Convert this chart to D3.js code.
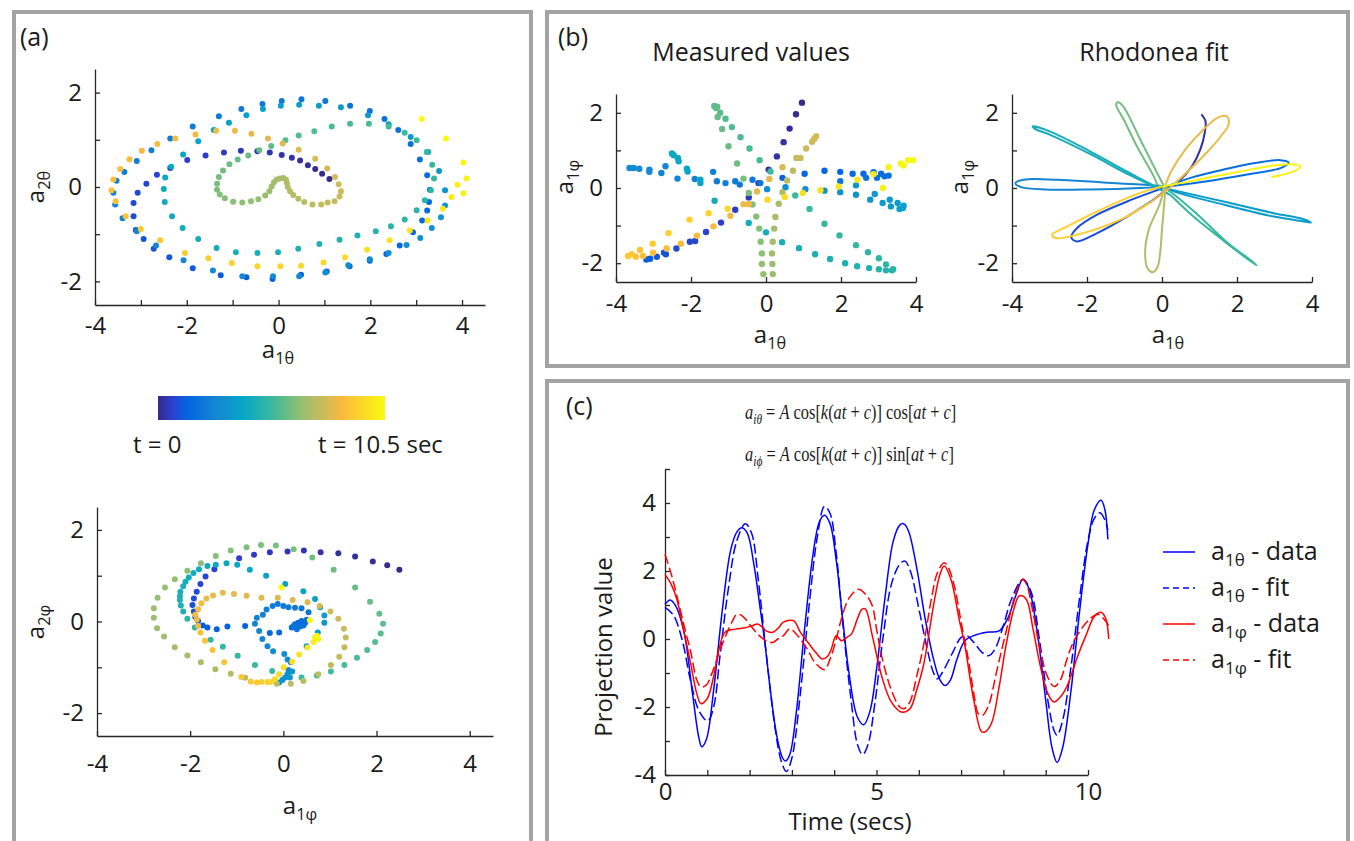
<!DOCTYPE html>
<html>
<head>
<meta charset="utf-8">
<script src="https://cdn.jsdelivr.net/npm/d3@7"></script>
<style>
  body { margin: 0; background: #fff; }
  text { font-family: "Open Sans", "Noto Sans", sans-serif; fill: #1a1a1a; }
</style>
</head>
<body>
<svg id="fig" width="1354" height="841"></svg>
<script>

// parula colour map, time in seconds
var tMax = 10.5;
var parulaStops = [0, 0.06, 0.125, 0.25, 0.375, 0.5, 0.625, 0.75, 0.81, 0.875, 1];
var parulaColors = ["#352a87", "#2e3ecf", "#0363e1", "#1485d4", "#06a7c6", "#38b99e",
                    "#92bf73", "#d9ba56", "#f9bb3d", "#fcce2e", "#f9fb0e"];

// (a) top: a1theta vs a2theta, [x, y, t]
var thetaPts = [
  [1.11,0.17,0.00],[0.95,0.28,0.05],[0.80,0.38,0.10],[0.64,0.46,0.15],[0.47,0.56,0.20],[0.29,0.62,0.25],[0.07,0.68,0.30],[-0.19,0.73,0.35],[-0.46,0.76,0.40],[-0.82,0.77,0.45],[-1.19,0.73,0.50],[-1.59,0.67,0.55],
  [-1.99,0.57,0.60],[-2.36,0.40,0.65],[-2.65,0.26,0.70],[-2.88,0.07,0.75],[-3.07,-0.12,0.80],[-3.16,-0.34,0.85],[-3.16,-0.62,0.90],
  [-3.11,-0.91,0.95],[-2.94,-1.10,0.99],[-2.72,-1.31,1.03],[-2.38,-1.49,1.07],[-1.87,-1.72,1.11],[-1.26,-1.87,1.15],[-0.70,-1.91,1.19],[-0.13,-1.95,1.23],[0.49,-1.86,1.27],[1.05,-1.79,1.31],[1.55,-1.68,1.35],[1.99,-1.56,1.39],[2.35,-1.42,1.43],[2.64,-1.24,1.47],[2.93,-0.96,1.51],[3.13,-0.71,1.55],[3.24,-0.50,1.59],[3.28,-0.32,1.63],
  [3.30,-0.06,1.68],[3.24,0.25,1.72],[3.08,0.58,1.76],[2.88,0.91,1.80],[2.61,1.21,1.84],[2.31,1.44,1.88],[1.99,1.61,1.92],[1.56,1.72,1.96],[1.02,1.82,2.00],[0.50,1.86,2.04],[0.07,1.82,2.08],[-0.35,1.76,2.12],[-0.81,1.65,2.16],[-1.30,1.50,2.20],[-1.87,1.28,2.24],[-2.36,1.03,2.28],[-2.77,0.78,2.32],[-3.09,0.55,2.36],[-3.36,0.32,2.40],[-3.53,0.13,2.44],[-3.60,-0.12,2.48],[-3.56,-0.37,2.52],[-3.40,-0.66,2.56],
  [-3.09,-0.94,2.60],[-2.67,-1.24,2.65],[-2.07,-1.55,2.69],[-1.43,-1.77,2.74],[-0.79,-1.89,2.78],[-0.12,-1.89,2.83],[0.45,-1.89,2.87],[1.02,-1.81,2.92],[1.52,-1.66,2.94],[1.99,-1.53,2.96],[2.40,-1.40,3.01],[2.79,-1.23,3.05],[3.09,-1.08,3.10],[3.34,-0.87,3.14],[3.54,-0.64,3.19],[3.63,-0.39,3.23],[3.63,-0.07,3.28],[3.50,0.34,3.32],[3.26,0.74,3.37],[2.88,1.06,3.41],[2.40,1.33,3.46],[1.95,1.52,3.50],[1.36,1.69,3.55],[0.88,1.72,3.59],[0.45,1.74,3.64],[0.05,1.72,3.68],[-0.34,1.65,3.73],[-0.70,1.52,3.77],[-1.08,1.36,3.82],
  [-1.41,1.21,3.87],[-1.75,0.97,3.92],[-2.08,0.69,3.97],[-2.34,0.43,4.02],[-2.47,0.20,4.07],[-2.50,-0.04,4.12],[-2.48,-0.32,4.17],[-2.32,-0.62,4.22],[-2.09,-0.87,4.27],[-1.75,-1.10,4.32],[-1.35,-1.29,4.37],[-0.93,-1.38,4.42],[-0.46,-1.40,4.47],[-0.01,-1.38,4.52],[0.43,-1.31,4.57],[0.89,-1.21,4.62],[1.33,-1.12,4.67],[1.72,-1.03,4.72],[2.12,-0.94,4.77],[2.45,-0.83,4.82],[2.75,-0.69,4.87],[3.01,-0.49,4.92],[3.19,-0.28,4.97],[3.32,-0.07,5.02],
  [3.39,0.18,5.07],[3.35,0.47,5.13],[3.23,0.74,5.19],[3.01,0.99,5.25],[2.75,1.15,5.31],[2.40,1.28,5.37],[1.97,1.34,5.43],[1.56,1.34,5.49],[1.16,1.28,5.55],[0.78,1.18,5.61],[0.44,1.09,5.67],[0.15,0.99,5.73],[-0.16,0.87,5.79],[-0.42,0.78,5.85],[-0.66,0.67,5.91],[-0.89,0.58,5.97],[-1.07,0.48,6.03],[-1.21,0.35,6.09],[-1.30,0.21,6.15],[-1.34,0.07,6.21],[-1.34,-0.06,6.27],[-1.28,-0.16,6.33],[-1.17,-0.24,6.39],[-0.99,-0.31,6.45],[-0.79,-0.33,6.51],[-0.60,-0.30,6.57],[-0.44,-0.26,6.63],
  [-0.29,-0.18,6.70],[-0.20,-0.09,6.75],[-0.15,0.01,6.80],[-0.10,0.10,6.85],[-0.04,0.16,6.90],[0.03,0.18,6.95],[0.10,0.19,7.00],[0.16,0.16,7.05],[0.18,0.09,7.10],[0.20,0.00,7.15],[0.25,-0.09,7.20],[0.32,-0.17,7.25],[0.43,-0.25,7.30],[0.56,-0.32,7.35],[0.74,-0.37,7.40],[0.93,-0.37,7.45],[1.07,-0.33,7.50],[1.22,-0.30,7.55],
  [1.33,-0.20,7.60],[1.36,-0.09,7.66],[1.31,0.06,7.72],[1.23,0.21,7.78],[1.06,0.39,7.84],[0.80,0.60,7.90],[0.44,0.79,7.96],[0.09,0.92,8.02],[-0.23,1.03,8.08],[-0.59,1.13,8.14],[-0.95,1.19,8.20],[-1.36,1.19,8.26],[-1.81,1.11,8.32],[-2.25,1.03,8.38],[-2.64,0.91,8.44],[-2.98,0.77,8.50],[-3.25,0.59,8.56],[-3.45,0.38,8.62],[-3.60,0.16,8.68],[-3.64,-0.07,8.74],[-3.55,-0.30,8.80],[-3.33,-0.62,8.86],[-3.00,-0.89,8.92],[-2.58,-1.13,8.98],
  [-2.04,-1.40,9.05],[-1.53,-1.51,9.13],[-1.02,-1.61,9.20],[-0.46,-1.68,9.28],[0.04,-1.68,9.35],[0.49,-1.67,9.43],[0.98,-1.60,9.51],[1.45,-1.49,9.58],[1.93,-1.33,9.66],[2.42,-1.13,9.73],[2.86,-0.92,9.81],[3.25,-0.71,9.89],[3.58,-0.46,9.96],[3.77,-0.21,10.04],[4.03,-0.13,10.11],[3.90,0.05,10.19],[4.10,0.18,10.27],[4.03,0.52,10.34],[3.65,1.03,10.42],[3.12,1.44,10.50]
];

// (a) bottom: a1phi vs a2phi, [x, y, t]
var phiPts = [
  [2.49,1.13,0.00],[2.23,1.23,0.06],[1.92,1.31,0.12],[1.54,1.42,0.18],[1.18,1.49,0.24],[0.80,1.51,0.30],[0.44,1.55,0.36],[0.09,1.53,0.42],[-0.29,1.51,0.48],[-0.63,1.46,0.54],[-0.95,1.38,0.60],
  [-1.48,1.14,0.66],[-1.67,0.98,0.72],[-1.78,0.82,0.77],[-1.86,0.65,0.83],[-1.92,0.50,0.88],[-1.95,0.36,0.94],[-1.92,0.22,1.00],[-1.89,0.10,1.05],[-1.83,0.01,1.11],[-1.73,-0.09,1.16],[-1.63,-0.13,1.22],[-1.43,-0.17,1.28],[-1.20,-0.11,1.33],[-0.82,-0.10,1.39],[-0.29,-0.25,1.44],[-0.09,-0.24,1.50],
  [0.18,-0.13,1.55],[0.25,-0.06,1.60],[0.32,-0.03,1.65],[0.39,0.01,1.70],[0.47,-0.03,1.75],[0.50,0.04,1.80],[0.43,-0.09,1.85],[0.29,-0.17,1.90],[0.36,-0.11,1.95],[0.22,-0.10,2.00],
  [0.54,0.20,2.05],[0.39,0.29,2.10],[0.25,0.30,2.15],[0.11,0.31,2.20],[0.00,0.34,2.25],[-0.12,0.38,2.30],[-0.23,0.34,2.35],[-0.36,0.26,2.40],[-0.44,0.15,2.45],[-0.57,0.08,2.50],[-0.61,-0.05,2.55],[-0.52,-0.21,2.60],[-0.45,-0.38,2.65],[-0.34,-0.54,2.70],[-0.22,-0.65,2.75],[0.02,-0.71,2.80],[0.09,-0.83,2.85],[0.16,-0.89,2.90],[0.11,-1.06,2.95],[0.09,-1.15,3.00],[0.04,-1.22,3.05],[-0.02,-1.28,3.10],[-0.09,-1.33,3.15],
  [0.14,-1.22,3.20],[0.19,-1.09,3.26],[0.50,-0.54,3.32],[0.74,-0.24,3.38],[0.88,-0.03,3.44],[0.88,0.13,3.50],[0.79,0.31,3.56],[0.68,0.49,3.62],[0.43,0.66,3.68],[0.04,0.82,3.74],[-0.37,1.00,3.80],[-0.72,1.13,3.86],[-0.99,1.24,3.92],[-1.22,1.27,3.98],[-1.45,1.24,4.04],[-1.63,1.21,4.10],[-1.81,1.14,4.16],[-1.93,1.06,4.22],[-2.03,0.96,4.28],[-2.10,0.87,4.34],[-2.15,0.77,4.40],[-2.21,0.65,4.46],[-2.22,0.55,4.52],[-2.22,0.47,4.58],[-2.20,0.35,4.64],[-2.15,0.22,4.70],
  [-2.06,0.06,4.90],[-1.90,-0.13,4.96],[-1.56,-0.40,5.02],[-1.30,-0.55,5.08],[-0.98,-0.75,5.14],[-0.61,-0.95,5.20],[-0.24,-1.08,5.26],[0.39,-1.22,5.32],[0.72,-1.18,5.38],[1.02,-1.09,5.44],[1.31,-0.95,5.50],[1.58,-0.79,5.56],[1.80,-0.62,5.62],[1.97,-0.45,5.68],[2.09,-0.26,5.74],[2.14,-0.05,5.80],[2.06,0.17,5.86],[1.86,0.43,5.92],[1.54,0.74,5.98],[1.08,1.13,6.04],
  [0.62,1.40,6.10],[0.22,1.58,6.15],[-0.16,1.66,6.20],[-0.48,1.67,6.25],[-0.79,1.62,6.30],[-1.13,1.55,6.35],[-1.45,1.43,6.40],[-1.77,1.27,6.45],[-2.06,1.11,6.50],[-2.33,0.92,6.55],[-2.54,0.74,6.60],[-2.70,0.52,6.65],[-2.78,0.29,6.70],[-2.78,0.08,6.75],[-2.71,-0.15,6.80],[-2.56,-0.33,6.85],[-2.33,-0.56,6.90],[-2.06,-0.74,6.95],[-1.77,-0.89,7.00],[-1.46,-1.04,7.05],[-1.13,-1.14,7.10],
  [-0.82,-1.23,7.16],[-0.14,-1.36,7.21],[0.16,-1.36,7.26],[0.43,-1.30,7.31],[0.75,-1.15,7.36],[1.02,-0.95,7.41],[1.20,-0.77,7.46],[1.31,-0.56,7.51],[1.34,-0.35,7.56],[1.30,-0.16,7.61],[1.18,0.06,7.66],[1.01,0.22,7.71],[0.78,0.34,7.76],[0.52,0.42,7.81],[0.20,0.47,7.86],
  [-0.12,0.52,7.92],[-0.47,0.52,7.98],[-0.79,0.56,8.04],[-1.06,0.60,8.10],[-1.30,0.63,8.16],[-1.51,0.57,8.22],[-1.65,0.50,8.28],[-1.76,0.40,8.34],[-1.83,0.27,8.40],[-1.89,0.15,8.46],[-1.86,0.04,8.52],[-1.83,-0.10,8.58],[-1.78,-0.24,8.64],[-1.68,-0.42,8.70],[-1.52,-0.62,8.76],[-1.27,-0.89,8.82],[-0.90,-1.21,8.88],
  [-0.70,-1.31,8.95],[-0.57,-1.33,9.05],[-0.47,-1.32,9.15],[-0.34,-1.32,9.25],[-0.26,-1.32,9.35],[-0.18,-1.26,9.45],[-0.09,-1.15,9.55],[0.01,-1.00,9.65],[0.19,-0.88,9.75],[0.34,-0.72,9.85],[0.52,-0.57,9.95],[0.65,-0.45,10.05],[0.68,-0.35,10.15],[0.72,-0.31,10.25],[0.75,-0.38,10.35],[0.57,0.03,10.45],[-0.04,0.74,10.50]
];

// (b) left: measured a1theta vs a1phi, [x, y, t]
var measuredPts = [
  [0.96,2.27,0.00],[0.80,1.96,0.07],[0.63,1.58,0.14],[0.47,1.22,0.21],[0.29,0.84,0.28],[0.07,0.49,0.35],[-0.20,0.13,0.42],
  [-0.46,-0.25,0.48],[-0.82,-0.58,0.55],[-1.20,-0.92,0.61],[-1.60,-1.17,0.68],[-1.89,-1.41,0.74],[-2.03,-1.43,0.81],[-2.39,-1.61,0.87],[-2.67,-1.76,0.94],[-2.72,-1.72,1.00],[-2.91,-1.83,1.07],[-3.09,-1.88,1.13],[-3.19,-1.90,1.20],
  [0.44,0.27,1.30],[1.03,0.38,1.36],[1.56,0.46,1.42],[1.98,0.43,1.48],[2.31,0.38,1.54],[2.60,0.38,1.60],[2.87,0.42,1.66],[3.07,0.38,1.72],[3.16,0.31,1.78],[3.27,0.33,1.84],[2.96,0.27,1.90],[2.67,0.27,1.96],[1.98,0.18,2.02],
  [-0.15,0.13,2.10],[-0.36,0.22,2.15],[-0.70,0.09,2.20],[-0.82,0.18,2.25],[-1.08,0.13,2.30],[-1.31,0.18,2.35],[-1.41,0.43,2.40],[-1.90,0.24,2.45],[-2.36,0.25,2.50],[-2.68,0.58,2.55],[-2.79,0.40,2.60],[-3.11,0.49,2.65],[-3.11,0.43,2.70],[-3.38,0.51,2.75],[-3.53,0.53,2.80],[-3.64,0.53,2.85],
  [0.03,-0.03,2.95],[0.52,0.02,3.00],[1.05,-0.03,3.05],[1.56,-0.07,3.10],[1.98,-0.11,3.15],[2.40,0.07,3.20],[2.40,-0.18,3.25],[2.78,-0.31,3.30],[2.90,-0.16,3.35],[3.11,-0.40,3.40],[3.30,-0.31,3.45],[3.33,-0.49,3.50],[3.51,-0.40,3.55],[3.56,-0.56,3.60],[3.65,-0.53,3.65],[3.67,-0.47,3.70],
  [-1.75,0.13,3.80],[-1.75,0.22,3.85],[-2.09,0.44,3.90],[-2.11,0.51,3.95],[-2.33,0.71,4.00],[-2.35,0.80,4.05],[-2.46,0.87,4.10],[-2.51,0.92,4.15],[-1.37,-0.34,4.25],
  [-0.46,-0.93,4.30],[0.00,-1.18,4.35],[0.43,-1.44,4.40],[0.88,-1.60,4.45],[1.31,-1.76,4.50],[1.71,-1.89,4.55],[2.11,-2.00,4.60],[2.43,-2.08,4.65],[2.75,-2.13,4.70],[3.01,-2.16,4.75],[3.20,-2.19,4.80],[3.36,-2.19,4.85],[3.39,-2.16,4.90],[3.20,-2.03,4.95],[3.01,-1.87,5.00],[2.72,-1.71,5.05],[2.40,-1.52,5.10],[1.96,-1.26,5.15],[1.56,-0.95,5.20],[1.16,-0.56,5.25],[0.78,-0.20,5.30],
  [0.12,0.44,5.40],[-0.17,0.74,5.45],[-0.44,1.05,5.50],[-0.68,1.35,5.55],[-0.91,1.62,5.60],[-1.08,1.84,5.65],[-1.22,2.00,5.70],[-1.33,2.13,5.75],[-1.38,2.18,5.80],[-1.30,2.16,5.85],[-1.29,1.89,5.90],[-1.17,1.57,5.95],[-1.00,1.11,6.00],[-0.77,0.65,6.05],
  [-0.60,0.25,6.20],[-0.46,-0.13,6.25],[-0.36,-0.44,6.30],[-0.26,-0.76,6.35],[-0.18,-1.08,6.40],[-0.14,-1.43,6.45],[-0.11,-1.74,6.50],[-0.11,-2.02,6.55],[-0.07,-2.29,6.60],[0.18,-2.29,6.70],[0.17,-2.02,6.75],[0.16,-1.74,6.80],[0.18,-1.43,6.85],[0.22,-1.08,6.90],[0.25,-0.77,6.95],[0.34,-0.42,7.00],[0.44,-0.11,7.05],
  [0.56,0.20,7.30],[0.72,0.46,7.38],[0.81,0.80,7.46],[0.92,0.80,7.54],[1.07,1.05,7.62],[1.23,1.23,7.70],[1.29,1.31,7.78],[1.34,1.38,7.86],[0.44,0.55,7.94],[0.09,0.24,8.02],
  [-0.24,-0.09,8.10],[-0.46,-0.43,8.17],[-0.60,-0.43,8.24],[-0.95,-0.74,8.31],[-1.40,-1.02,8.38],[-1.84,-1.27,8.45],[-2.27,-1.48,8.52],[-2.65,-1.61,8.59],[-3.01,-1.72,8.66],[-3.28,-1.81,8.73],[-3.36,-1.65,8.80],[-3.47,-1.83,8.87],[-3.58,-1.76,8.94],[-3.68,-1.81,9.01],[-3.02,-1.48,9.08],
  [-2.60,-1.20,9.20],[-2.04,-0.84,9.28],[-1.53,-0.67,9.36],[-1.02,-0.55,9.44],[0.04,-0.31,9.52],[0.50,-0.24,9.60],[0.98,-0.13,9.68],[1.45,-0.06,9.76],[1.94,0.04,9.84],[2.44,0.22,9.92],[2.87,0.37,10.00],[3.12,0.00,10.08],[3.27,0.55,10.16],[3.60,0.65,10.24],[3.67,0.60,10.32],[3.79,0.74,10.40],[3.92,0.74,10.50]
];

// (b) right: rhodonea fit, one petal per entry, with the petal's time
var petalTimes = [0.2, 0.9, 1.7, 2.6, 3.5, 4.4, 5.2, 6.1, 7.1, 8.2, 9.2, 10.2];
var petals = [
  [[1.05,1.96],[1.16,1.78],[1.14,1.47],[1.02,1.02],[0.80,0.58],[0.49,0.22],[0.18,0.0],[-0.22,-0.31]],
  [[-0.22,-0.31],[-0.93,-0.76],[-1.73,-1.20],[-2.27,-1.42],[-2.42,-1.31],[-2.27,-1.07],[-1.73,-0.71],[-0.93,-0.36],[-0.22,-0.09],[0.13,0.04]],
  [[0.13,0.04],[0.76,0.27],[1.64,0.49],[2.53,0.67],[3.16,0.74],[3.38,0.67],[3.16,0.53],[2.27,0.36],[1.2,0.18],[0.31,0.06],[-0.13,0.03]],
  [[-0.13,0.03],[-0.58,0.0],[-1.91,-0.04],[-3.07,-0.04],[-3.78,0.03],[-3.91,0.13],[-3.69,0.22],[-2.8,0.22],[-1.64,0.15],[-0.58,0.09],[0.04,0.04]],
  [[0.04,0.04],[0.31,-0.09],[1.64,-0.44],[2.98,-0.76],[3.78,-0.89],[3.97,-0.92],[3.78,-0.83],[2.98,-0.67],[1.64,-0.36],[0.31,-0.06],[-0.22,0.06]],
  [[-0.22,0.06],[-0.9,0.42],[-1.91,0.97],[-2.98,1.50],[-3.45,1.64],[-3.40,1.58],[-2.95,1.40],[-1.91,0.90],[-0.9,0.36],[-0.13,0.0],[0.22,-0.18]],
  [[0.22,-0.18],[0.84,-0.76],[1.64,-1.40],[2.27,-1.88],[2.52,-2.06],[2.40,-1.95],[1.73,-1.44],[0.93,-0.69],[0.22,-0.10],[-0.13,0.09]],
  [[-0.13,0.09],[-0.22,0.31],[-0.67,1.11],[-1.02,1.82],[-1.22,2.2],[-1.18,2.28],[-1.04,2.18],[-0.58,1.29],[-0.13,0.4],[0.06,0.04]],
  [[0.06,0.04],[-0.05,-0.4],[-0.35,-1.1],[-0.45,-1.73],[-0.38,-2.15],[-0.25,-2.24],[-0.12,-2.1],[-0.05,-1.73],[0.0,-1.1],[0.06,-0.4],[0.1,0.1]],
  [[0.1,0.1],[0.25,0.45],[0.62,1.02],[1.1,1.55],[1.5,1.88],[1.73,1.9],[1.78,1.7],[1.55,1.35],[1.2,0.95],[0.7,0.45],[0.2,0.0],[-0.31,-0.38]],
  [[-0.31,-0.38],[-1.11,-0.84],[-2.18,-1.22],[-2.84,-1.33],[-2.93,-1.24],[-2.62,-1.07],[-1.64,-0.58],[-0.58,-0.13],[0.0,0.04]],
  [[0.0,0.04],[0.76,0.18],[2.09,0.44],[2.98,0.6],[3.6,0.62],[3.69,0.56],[3.51,0.44],[3.16,0.34],[2.92,0.29]]
];

// (c) projections over time, [t, value]
var thetaData = [[0,1.02],[0.12,1.15],[0.25,0.98],[0.45,0.2],[0.65,-1.6],[0.8,-2.9],[0.87,-3.17],[0.98,-2.95],[1.15,-1.5],[1.35,0.8],[1.55,2.6],[1.7,3.15],[1.82,3.27],[1.95,3.1],[2.1,2.2],[2.25,0.9],[2.35,0],[2.5,-1.6],[2.65,-2.9],[2.78,-3.5],[2.85,-3.59],[2.95,-3.4],[3.1,-2.2],[3.3,0.3],[3.5,2.5],[3.65,3.45],[3.77,3.64],[3.9,3.4],[4.05,2.3],[4.2,0.6],[4.35,-1.0],[4.55,-2.3],[4.7,-2.52],[4.85,-2.1],[5.0,-0.9],[5.2,1.2],[5.4,2.9],[5.55,3.35],[5.64,3.39],[5.75,3.2],[5.95,2.1],[6.15,0.6],[6.35,-0.6],[6.5,-1.2],[6.62,-1.37],[6.75,-1.2],[6.9,-0.6],[7.09,-0.05],[7.3,0.1],[7.6,0.2],[7.9,0.24],[8.1,0.6],[8.3,1.3],[8.46,1.76],[8.6,1.5],[8.8,0.2],[9.0,-1.8],[9.15,-3.2],[9.27,-3.63],[9.4,-3.2],[9.6,-1.5],[9.8,0.8],[10.0,2.8],[10.15,3.8],[10.31,4.08],[10.4,3.8],[10.47,2.93]];
var thetaFit = [[0,0.93],[0.2,0.7],[0.4,0.0],[0.6,-1.2],[0.8,-2.1],[1.01,-2.41],[1.15,-2.0],[1.3,-0.5],[1.5,1.5],[1.7,2.9],[1.9,3.39],[2.05,3.1],[2.2,1.8],[2.4,-0.5],[2.6,-2.6],[2.75,-3.6],[2.87,-3.9],[3.0,-3.5],[3.2,-1.6],[3.4,0.9],[3.6,3.0],[3.77,3.9],[3.9,3.7],[4.05,2.5],[4.2,0.5],[4.4,-1.8],[4.55,-3.1],[4.67,-3.4],[4.8,-3.1],[4.95,-2.0],[5.15,0.0],[5.35,1.6],[5.55,2.2],[5.67,2.29],[5.8,2.0],[6.0,0.9],[6.2,-0.3],[6.35,-1.0],[6.44,-1.17],[6.55,-1.0],[6.8,-0.4],[7.0,0.05],[7.13,0.1],[7.3,-0.1],[7.5,-0.4],[7.65,-0.49],[7.8,-0.3],[8.0,0.4],[8.2,1.2],[8.46,1.75],[8.65,1.4],[8.85,0.0],[9.05,-1.8],[9.2,-2.7],[9.27,-2.83],[9.4,-2.4],[9.6,-0.8],[9.8,1.2],[10.0,2.9],[10.15,3.55],[10.28,3.71],[10.4,3.5],[10.47,3.2]];
var phiData = [[0,1.9],[0.15,1.6],[0.28,1.17],[0.45,0.2],[0.6,-0.68],[0.75,-1.6],[0.85,-1.9],[1.0,-1.75],[1.15,-1.1],[1.26,-0.39],[1.42,0.2],[1.66,0.29],[1.9,0.33],[2.06,0.39],[2.19,0.44],[2.3,0.35],[2.39,0.24],[2.55,0.2],[2.7,0.35],[2.79,0.49],[3.04,0.54],[3.2,0.2],[3.44,-0.2],[3.6,-0.45],[3.72,-0.59],[3.85,-0.5],[3.93,-0.3],[4.05,0.1],[4.17,-0.05],[4.3,0.05],[4.41,0.15],[4.55,0.6],[4.66,0.88],[4.74,0.88],[4.9,0.1],[5.14,-1.17],[5.35,-1.85],[5.59,-2.15],[5.79,-2.05],[5.95,-1.5],[6.11,-0.78],[6.36,1.07],[6.5,1.9],[6.6,2.15],[6.76,1.76],[6.95,0.6],[7.09,-0.2],[7.3,-1.8],[7.49,-2.73],[7.6,-2.7],[7.73,-2.44],[7.9,-1.4],[8.06,-0.2],[8.25,0.9],[8.38,1.27],[8.54,1.17],[8.7,0.3],[8.87,-0.78],[9.05,-1.6],[9.19,-1.85],[9.35,-1.7],[9.51,-1.37],[9.76,-0.49],[9.95,0.1],[10.16,0.68],[10.32,0.78],[10.42,0.6],[10.49,0.0]];
var phiFit = [[0,2.49],[0.15,1.9],[0.28,1.27],[0.45,0.4],[0.61,-0.39],[0.75,-1.2],[0.85,-1.41],[0.98,-1.35],[1.09,-1.07],[1.2,-0.7],[1.34,-0.2],[1.58,0.49],[1.7,0.73],[1.8,0.7],[1.9,0.59],[2.05,0.35],[2.23,0.1],[2.43,-0.08],[2.55,-0.1],[2.67,0.0],[2.8,0.1],[2.95,0.3],[3.1,0.15],[3.36,-0.29],[3.55,-0.7],[3.77,-0.9],[3.9,-0.6],[4.05,0.0],[4.17,0.59],[4.35,1.2],[4.57,1.46],[4.75,1.3],[4.9,0.98],[5.0,0.3],[5.14,-0.59],[5.35,-1.5],[5.55,-2.0],[5.65,-2.05],[5.79,-1.85],[5.95,-1.1],[6.11,-0.2],[6.3,1.2],[6.44,1.95],[6.6,2.24],[6.7,2.1],[6.84,1.56],[7.0,0.5],[7.17,-0.59],[7.3,-1.6],[7.41,-2.2],[7.5,-2.25],[7.65,-1.95],[7.85,-0.9],[8.06,0.2],[8.3,1.37],[8.46,1.76],[8.55,1.6],[8.7,0.78],[8.85,-0.2],[9.03,-1.07],[9.2,-1.4],[9.35,-1.2],[9.5,-0.6],[9.65,-0.1],[9.84,0.29],[10.05,0.6],[10.24,0.73],[10.4,0.55],[10.49,0.39]];

var legendItems = [
  {sub: "1\u03b8", tail: " - data", color: "#0000ff", dash: null},
  {sub: "1\u03b8", tail: " - fit",  color: "#0000ff", dash: "6,4"},
  {sub: "1\u03c6", tail: " - data", color: "#ff0000", dash: null},
  {sub: "1\u03c6", tail: " - fit",  color: "#ff0000", dash: "6,4"}
];

var parula = d3.scaleLinear()
  .domain(parulaStops.map(function(s) { return s * tMax; }))
  .range(parulaColors)
  .clamp(true);

var svg = d3.select("#fig");
var axisColor = "#262626";
var fontFam = '"Open Sans", "Noto Sans", sans-serif';

// panel frames
[[14, 12, 517, 860], [547, 12, 801, 354], [547, 381, 801, 480]].forEach(function(r) {
  svg.append("rect")
    .attr("x", r[0]).attr("y", r[1]).attr("width", r[2]).attr("height", r[3])
    .attr("fill", "none").attr("stroke", "#a3a3a3").attr("stroke-width", 4);
});

function styleAxis(g, fs) {
  g.attr("font-size", fs).attr("font-family", fontFam);
  g.select(".domain").attr("stroke", axisColor).attr("stroke-width", 1.3);
  g.selectAll(".tick line").attr("stroke", axisColor).attr("stroke-width", 1.3);
  g.selectAll(".tick text").attr("fill", "#1a1a1a");
}

function label(list) {
  return function(d) { return list.indexOf(d) >= 0 ? String(d) : ""; };
}

function drawAxes(x, y, o) {
  var gx = svg.append("g")
    .attr("transform", "translate(0," + y.range()[0] + ")")
    .call(d3.axisBottom(x).tickValues(o.xt).tickFormat(label(o.xl))
      .tickSizeInner(-5).tickSizeOuter(0).tickPadding(o.xpad));
  styleAxis(gx, o.fs);
  var gy = svg.append("g")
    .attr("transform", "translate(" + x.range()[0] + ",0)")
    .call(d3.axisLeft(y).tickValues(o.yt).tickFormat(label(o.yl))
      .tickSizeInner(-5).tickSizeOuter(0).tickPadding(o.ypad));
  styleAxis(gy, o.fs);
}

// text with a subscript, optionally rotated
function subLabel(x, y, base, sub, fs, rotate, tail, anchor) {
  var t = svg.append("text")
    .attr("font-size", fs)
    .attr("text-anchor", anchor || "middle")
    .attr("transform", "translate(" + x + "," + y + ")" + (rotate ? " rotate(-90)" : ""));
  t.append("tspan").text(base);
  t.append("tspan").attr("font-size", fs * 0.68).attr("dy", fs * 0.24).text(sub);
  if (tail) t.append("tspan").attr("dy", -fs * 0.24).text(tail);
  return t;
}

function scatter(pts, x, y, r) {
  svg.append("g").selectAll("circle")
    .data(pts)
    .enter()
    .append("circle")
      .attr("cx", function(d) { return x(d[0]); })
      .attr("cy", function(d) { return y(d[1]); })
      .attr("r", r)
      .attr("fill", function(d) { return parula(d[2]); });
}

// ---------- panel (a) ----------
svg.append("text").attr("x", 20).attr("y", 46).attr("font-size", 25).text("(a)");

var xA1 = d3.scaleLinear().domain([-4, 4.5]).range([95, 485]);
var yA1 = d3.scaleLinear().domain([-2.5, 2.5]).range([305, 69]);
drawAxes(xA1, yA1, {xt: [-4,-3,-2,-1,0,1,2,3,4], xl: [-4,-2,0,2,4], yt: [-2,-1,0,1,2], yl: [-2,0,2],
                    fs: 24, xpad: 12, ypad: 13});
scatter(thetaPts, xA1, yA1, 3);
subLabel(278, 358, "a", "1\u03b8", 24);
subLabel(44, 187, "a", "2\u03b8", 24, true);

// colour bar
var grad = svg.append("defs").append("linearGradient").attr("id", "parulaGrad");
parulaStops.forEach(function(s, i) {
  grad.append("stop").attr("offset", (s * 100) + "%").attr("stop-color", parulaColors[i]);
});
svg.append("rect").attr("x", 158).attr("y", 396).attr("width", 227).attr("height", 24)
  .attr("fill", "url(#parulaGrad)");
svg.append("text").attr("x", 133).attr("y", 453).attr("font-size", 24).text("t = 0");
svg.append("text").attr("x", 318).attr("y", 453).attr("font-size", 24).text("t = 10.5 sec");

var xA2 = d3.scaleLinear().domain([-4, 4.5]).range([97, 493]);
var yA2 = d3.scaleLinear().domain([-2.5, 2.5]).range([736, 507]);
drawAxes(xA2, yA2, {xt: [-4,-2,0,2,4], xl: [-4,-2,0,2,4], yt: [-2,-1,0,1,2], yl: [-2,0,2],
                    fs: 24, xpad: 19, ypad: 13});
scatter(phiPts, xA2, yA2, 3);
subLabel(300, 814, "a", "1\u03c6", 24);
subLabel(44, 622, "a", "2\u03c6", 24, true);

// ---------- panel (b) ----------
svg.append("text").attr("x", 558).attr("y", 46).attr("font-size", 25).text("(b)");

var yB = d3.scaleLinear().domain([-2.5, 2.5]).range([282, 94]);
var xB1 = d3.scaleLinear().domain([-4, 4]).range([616, 916]);
var xB2 = d3.scaleLinear().domain([-4, 4]).range([1012, 1312]);
var bOpts = {xt: [-4,-2,0,2,4], xl: [-4,-2,0,2,4], yt: [-2,-1,0,1,2], yl: [-2,0,2], fs: 24, xpad: 13, ypad: 13};
drawAxes(xB1, yB, bOpts);
drawAxes(xB2, yB, bOpts);

svg.append("text").attr("x", 751).attr("y", 61).attr("font-size", 25).attr("text-anchor", "middle").text("Measured values");
svg.append("text").attr("x", 1154).attr("y", 61).attr("font-size", 25).attr("text-anchor", "middle").text("Rhodonea fit");

scatter(measuredPts, xB1, yB, 3.2);

var petalLine = d3.line()
  .x(function(d) { return xB2(d[0]); })
  .y(function(d) { return yB(d[1]); })
  .curve(d3.curveCatmullRom.alpha(0.5));
svg.append("g").selectAll("path")
  .data(petals)
  .enter()
  .append("path")
    .attr("d", petalLine)
    .attr("fill", "none")
    .attr("stroke-width", 2)
    .attr("stroke", function(d, i) { return parula(petalTimes[i]); });

subLabel(770, 343, "a", "1\u03b8", 24);
subLabel(573, 177, "a", "1\u03c6", 24, true);
subLabel(1168, 343, "a", "1\u03b8", 24);
subLabel(968, 177, "a", "1\u03c6", 24, true);

// ---------- panel (c) ----------
svg.append("text").attr("x", 566).attr("y", 415).attr("font-size", 25).text("(c)");

var xC = d3.scaleLinear().domain([0, 10]).range([665, 1088]);
var yC = d3.scaleLinear().domain([-4, 5]).range([775, 469]);
drawAxes(xC, yC, {xt: d3.range(0, 11), xl: [0, 5, 10], yt: d3.range(-4, 6), yl: [-4,-2,0,2,4],
                  fs: 24, xpad: 8, ypad: 9});

var tsLine = d3.line()
  .x(function(d) { return xC(d[0]); })
  .y(function(d) { return yC(d[1]); })
  .curve(d3.curveCatmullRom.alpha(0.5));

[[thetaData, "#0000ff", null], [thetaFit, "#0000ff", "10,4"],
 [phiData, "#ff0000", null], [phiFit, "#ff0000", "10,4"]].forEach(function(s) {
  svg.append("path")
    .datum(s[0])
    .attr("d", tsLine)
    .attr("fill", "none")
    .attr("stroke", s[1])
    .attr("stroke-width", 1.5)
    .attr("stroke-dasharray", s[2]);
});

svg.append("text").attr("font-size", 24).attr("text-anchor", "middle")
  .attr("transform", "translate(612,647) rotate(-90)").text("Projection value");
svg.append("text").attr("x", 850).attr("y", 830).attr("font-size", 24)
  .attr("text-anchor", "middle").text("Time (secs)");

// fit equations (serif, slightly condensed like Cambria Math)
function equation(y, subChar, fn) {
  var t = svg.append("text")
    .attr("transform", "translate(745," + y + ") scale(0.82,1)")
    .attr("font-size", 20).style("font-family", '"Liberation Serif", "DejaVu Serif", serif');
  var parts = [["a", 1], ["i" + subChar, 2], [" = ", 0], ["A", 1], [" cos[", 0], ["k", 1], ["(", 0],
               ["at", 1], [" + ", 0], ["c", 1], [")] " + fn + "[", 0], ["at", 1], [" + ", 0], ["c", 1], ["]", 0]];
  var down = false;
  parts.forEach(function(p) {
    var s = t.append("tspan").text(p[0]);
    if (p[1] >= 1) s.attr("font-style", "italic");
    if (p[1] === 2) { s.attr("font-size", 14).attr("dy", 5); down = true; }
    else if (down) { s.attr("dy", -5); down = false; }
  });
}
equation(419, "\u03b8", "cos");
equation(461, "\u03d5", "sin");

// legend
legendItems.forEach(function(d, i) {
  var cy = 552 + i * 36;
  svg.append("line")
    .attr("x1", 1163).attr("x2", 1195).attr("y1", cy).attr("y2", cy)
    .attr("stroke", d.color).attr("stroke-width", 1.5)
    .attr("stroke-dasharray", d.dash);
  subLabel(1211, cy + 8, "a", d.sub, 25, false, d.tail, "start");
});

</script>
</body>
</html>
